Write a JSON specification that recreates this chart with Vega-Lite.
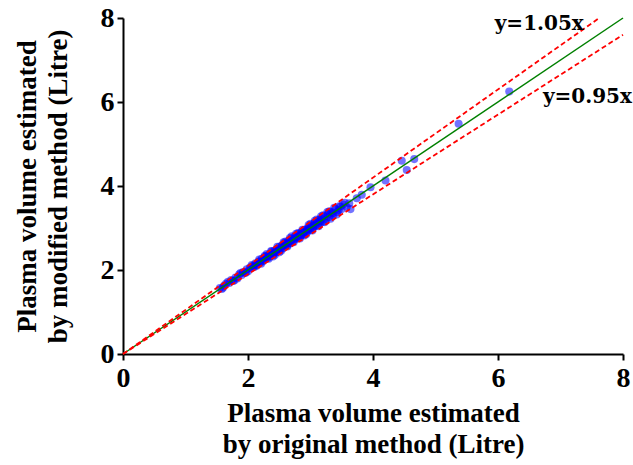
{
  "$schema": "https://vega.github.io/schema/vega-lite/v6.json",
  "autosize": "none",
  "width": 500,
  "height": 336,
  "padding": {"left": 123, "top": 18, "right": 10, "bottom": 111},
  "background": "white",
  "config": {
    "view": {"stroke": null},
    "axis": {
      "grid": false,
      "labelFlush": false,
      "domainColor": "black",
      "domainWidth": 2,
      "tickColor": "black",
      "tickWidth": 2,
      "tickSize": 6,
      "labelFont": "Liberation Serif",
      "labelFontWeight": "bold",
      "labelFontSize": 28,
      "labelColor": "black",
      "titleFont": "Liberation Serif",
      "titleFontWeight": "bold",
      "titleFontSize": 27,
      "titleColor": "black",
      "titleLineHeight": 31
    }
  },
  "datasets": {
    "pts": [
      {"orig": 1.55, "mod": 1.57}, {"orig": 1.58, "mod": 1.55}, {"orig": 1.62, "mod": 1.63}, {"orig": 1.65, "mod": 1.68},
      {"orig": 1.7, "mod": 1.69}, {"orig": 1.73, "mod": 1.76}, {"orig": 1.76, "mod": 1.74}, {"orig": 1.8, "mod": 1.82},
      {"orig": 1.83, "mod": 1.8}, {"orig": 1.86, "mod": 1.9}, {"orig": 1.9, "mod": 1.88}, {"orig": 1.92, "mod": 1.95},
      {"orig": 1.95, "mod": 1.93}, {"orig": 1.98, "mod": 2.02}, {"orig": 2.0, "mod": 1.97}, {"orig": 2.03, "mod": 2.06},
      {"orig": 2.05, "mod": 2.04}, {"orig": 2.08, "mod": 2.1}, {"orig": 2.1, "mod": 2.07}, {"orig": 2.12, "mod": 2.16},
      {"orig": 2.15, "mod": 2.13}, {"orig": 2.17, "mod": 2.2}, {"orig": 2.2, "mod": 2.18}, {"orig": 2.22, "mod": 2.27},
      {"orig": 2.24, "mod": 2.21}, {"orig": 2.26, "mod": 2.3}, {"orig": 2.28, "mod": 2.26}, {"orig": 2.3, "mod": 2.34},
      {"orig": 2.32, "mod": 2.29}, {"orig": 2.34, "mod": 2.37}, {"orig": 2.36, "mod": 2.33}, {"orig": 2.38, "mod": 2.44},
      {"orig": 2.4, "mod": 2.38}, {"orig": 2.42, "mod": 2.46}, {"orig": 2.44, "mod": 2.41}, {"orig": 2.46, "mod": 2.5},
      {"orig": 2.48, "mod": 2.45}, {"orig": 2.5, "mod": 2.55}, {"orig": 2.52, "mod": 2.49}, {"orig": 2.54, "mod": 2.58},
      {"orig": 2.56, "mod": 2.52}, {"orig": 2.58, "mod": 2.63}, {"orig": 2.6, "mod": 2.57}, {"orig": 2.62, "mod": 2.66},
      {"orig": 2.64, "mod": 2.6}, {"orig": 2.66, "mod": 2.71}, {"orig": 2.68, "mod": 2.64}, {"orig": 2.7, "mod": 2.74},
      {"orig": 2.72, "mod": 2.69}, {"orig": 2.74, "mod": 2.79}, {"orig": 2.76, "mod": 2.73}, {"orig": 2.78, "mod": 2.82},
      {"orig": 2.8, "mod": 2.76}, {"orig": 2.82, "mod": 2.87}, {"orig": 2.84, "mod": 2.81}, {"orig": 2.86, "mod": 2.9},
      {"orig": 2.88, "mod": 2.84}, {"orig": 2.9, "mod": 2.95}, {"orig": 2.92, "mod": 2.89}, {"orig": 2.94, "mod": 2.98},
      {"orig": 2.96, "mod": 2.92}, {"orig": 2.98, "mod": 3.03}, {"orig": 3.0, "mod": 2.96}, {"orig": 3.02, "mod": 3.06},
      {"orig": 3.04, "mod": 3.0}, {"orig": 3.06, "mod": 3.12}, {"orig": 3.08, "mod": 3.05}, {"orig": 3.1, "mod": 3.14},
      {"orig": 3.12, "mod": 3.08}, {"orig": 3.14, "mod": 3.2}, {"orig": 3.16, "mod": 3.12}, {"orig": 3.18, "mod": 3.22},
      {"orig": 3.2, "mod": 3.15}, {"orig": 3.22, "mod": 3.28}, {"orig": 3.25, "mod": 3.2}, {"orig": 3.28, "mod": 3.33},
      {"orig": 3.3, "mod": 3.26}, {"orig": 3.33, "mod": 3.38}, {"orig": 3.36, "mod": 3.3}, {"orig": 3.4, "mod": 3.45},
      {"orig": 3.43, "mod": 3.38}, {"orig": 3.46, "mod": 3.52}, {"orig": 3.5, "mod": 3.45}, {"orig": 3.55, "mod": 3.6},
      {"orig": 2.25, "mod": 2.24}, {"orig": 2.35, "mod": 2.36}, {"orig": 2.45, "mod": 2.44}, {"orig": 2.55, "mod": 2.56},
      {"orig": 2.65, "mod": 2.64}, {"orig": 2.75, "mod": 2.76}, {"orig": 2.85, "mod": 2.84}, {"orig": 2.95, "mod": 2.96},
      {"orig": 3.05, "mod": 3.04}, {"orig": 3.15, "mod": 3.16}, {"orig": 2.5, "mod": 2.42}, {"orig": 2.7, "mod": 2.8},
      {"orig": 2.9, "mod": 2.82}, {"orig": 3.1, "mod": 3.2}, {"orig": 2.3, "mod": 2.38}, {"orig": 2.6, "mod": 2.68},
      {"orig": 2.8, "mod": 2.88}, {"orig": 3.0, "mod": 3.1}, {"orig": 3.2, "mod": 3.3}, {"orig": 2.4, "mod": 2.32},
      {"orig": 1.6, "mod": 1.58}, {"orig": 1.68, "mod": 1.72}, {"orig": 1.78, "mod": 1.75}, {"orig": 1.88, "mod": 1.93},
      {"orig": 1.97, "mod": 1.94}, {"orig": 2.06, "mod": 2.12}, {"orig": 2.14, "mod": 2.1}, {"orig": 2.18, "mod": 2.25},
      {"orig": 2.21, "mod": 2.15}, {"orig": 2.27, "mod": 2.34}, {"orig": 2.33, "mod": 2.27}, {"orig": 2.37, "mod": 2.45},
      {"orig": 2.43, "mod": 2.36}, {"orig": 2.47, "mod": 2.55}, {"orig": 2.53, "mod": 2.46}, {"orig": 2.57, "mod": 2.66},
      {"orig": 2.63, "mod": 2.56}, {"orig": 2.67, "mod": 2.76}, {"orig": 2.73, "mod": 2.66}, {"orig": 2.77, "mod": 2.86},
      {"orig": 2.83, "mod": 2.75}, {"orig": 2.87, "mod": 2.96}, {"orig": 2.93, "mod": 2.85}, {"orig": 2.97, "mod": 3.07},
      {"orig": 3.03, "mod": 2.94}, {"orig": 3.07, "mod": 3.17}, {"orig": 3.13, "mod": 3.04}, {"orig": 3.17, "mod": 3.28},
      {"orig": 3.23, "mod": 3.14}, {"orig": 3.27, "mod": 3.38}, {"orig": 3.32, "mod": 3.22}, {"orig": 3.38, "mod": 3.48},
      {"orig": 3.42, "mod": 3.32}, {"orig": 3.52, "mod": 3.56}, {"orig": 3.58, "mod": 3.5}, {"orig": 3.3, "mod": 3.4},
      {"orig": 3.35, "mod": 3.35}, {"orig": 3.45, "mod": 3.42}, {"orig": 2.99, "mod": 2.99}, {"orig": 2.89, "mod": 2.9},
      {"orig": 2.79, "mod": 2.79}, {"orig": 2.69, "mod": 2.7}, {"orig": 2.59, "mod": 2.6}, {"orig": 2.49, "mod": 2.5},
      {"orig": 2.39, "mod": 2.4}, {"orig": 2.29, "mod": 2.3}, {"orig": 2.19, "mod": 2.2}, {"orig": 2.09, "mod": 2.09},
      {"orig": 3.48, "mod": 3.51}, {"orig": 3.62, "mod": 3.59}, {"orig": 3.64, "mod": 3.45}, {"orig": 3.74, "mod": 3.71},
      {"orig": 3.82, "mod": 3.79}, {"orig": 3.96, "mod": 3.97}, {"orig": 4.2, "mod": 4.13}, {"orig": 4.46, "mod": 4.6},
      {"orig": 4.54, "mod": 4.38}, {"orig": 4.66, "mod": 4.64}, {"orig": 5.37, "mod": 5.48}, {"orig": 6.18, "mod": 6.25}
    ],
    "identity": [{"orig": 0, "mod": 0}, {"orig": 8, "mod": 8}],
    "upper": [{"orig": 0, "mod": 0}, {"orig": 7.62, "mod": 8}],
    "lower": [{"orig": 0, "mod": 0}, {"orig": 8, "mod": 7.6}],
    "labels": [
      {"orig": 6.66, "mod": 7.86, "txt": "y=1.05x"},
      {"orig": 7.43, "mod": 6.12, "txt": "y=0.95x"}
    ]
  },
  "encoding": {
    "x": {
      "field": "orig", "type": "quantitative",
      "scale": {"domain": [0, 8], "nice": false, "zero": true},
      "axis": {"values": [0, 2, 4, 6, 8], "labelPadding": 4, "titlePadding": 8,
        "title": ["Plasma volume estimated", "by original method (Litre)"]}
    },
    "y": {
      "field": "mod", "type": "quantitative",
      "scale": {"domain": [0, 8], "nice": false},
      "axis": {"values": [0, 2, 4, 6, 8], "labelPadding": 3, "titlePadding": 28,
        "title": ["Plasma volume estimated", "by modified method (Litre)"]}
    }
  },
  "layer": [
    {
      "data": {"name": "pts"},
      "mark": {"type": "circle", "size": 65, "color": "#0000ff", "opacity": 0.55}
    },
    {
      "data": {"name": "identity"},
      "mark": {"type": "line", "color": "#008000", "strokeWidth": 1.5}
    },
    {
      "data": {"name": "upper"},
      "mark": {"type": "line", "color": "#ff0000", "strokeWidth": 1.8, "strokeDash": [5, 3]}
    },
    {
      "data": {"name": "lower"},
      "mark": {"type": "line", "color": "#ff0000", "strokeWidth": 1.8, "strokeDash": [5, 3]}
    },
    {
      "data": {"name": "labels"},
      "mark": {"type": "text", "font": "DejaVu Serif", "fontWeight": "bold", "fontSize": 20, "color": "black", "align": "center", "baseline": "middle"},
      "encoding": {"text": {"field": "txt"}}
    }
  ]
}
